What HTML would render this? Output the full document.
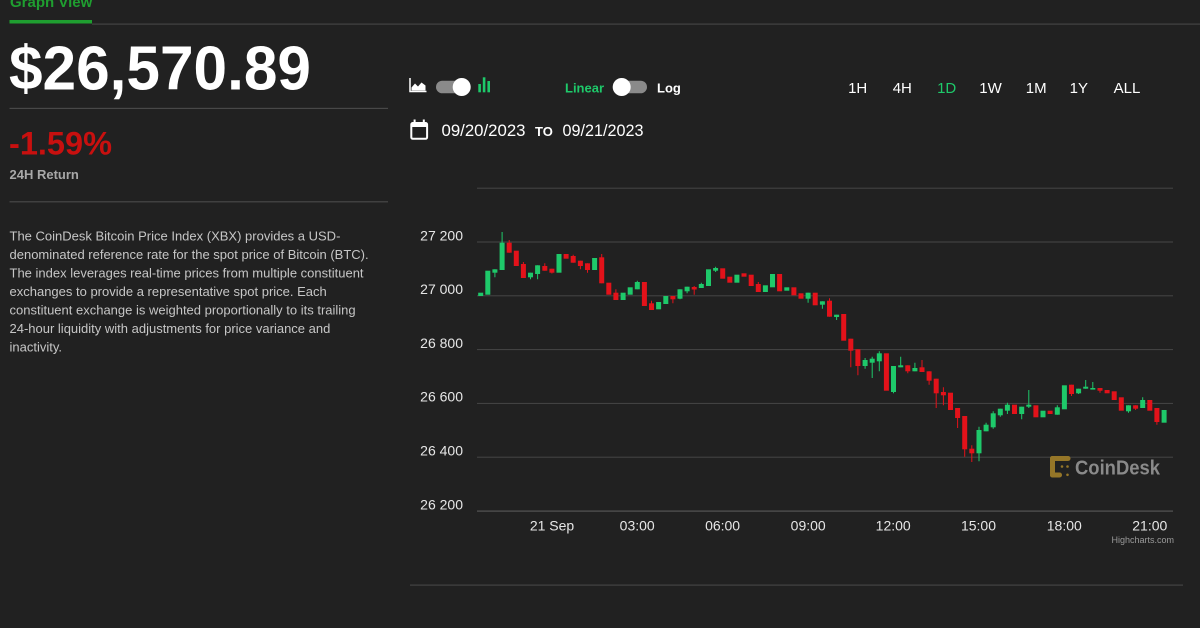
<!DOCTYPE html>
<html>
<head>
<meta charset="utf-8">
<style>
html,body{margin:0;padding:0;background:#212121;width:1200px;height:628px;overflow:hidden;}
svg{display:block;font-family:"Liberation Sans",Arial,sans-serif;}
</style>
</head>
<body>
<svg width="1200" height="628" viewBox="0 0 1200 628" xmlns="http://www.w3.org/2000/svg">
<rect width="1200" height="628" fill="#212121"/>

<!-- Left panel -->
<text x="10" y="7" font-size="15" font-weight="bold" fill="#1f9e30">Graph View</text>
<rect x="9.5" y="20" width="82.5" height="3.5" fill="#1f9e30"/>
<rect x="92" y="23.5" width="1108" height="1.2" fill="#444"/>

<text x="9" y="89.3" font-size="62" font-weight="bold" fill="#ffffff" textLength="302" lengthAdjust="spacingAndGlyphs">$26,570.89</text>
<rect x="9.5" y="107.8" width="378.5" height="1.2" fill="#484848"/>
<text x="9" y="154.5" font-size="32" font-weight="bold" fill="#c8100f" textLength="103" lengthAdjust="spacingAndGlyphs">-1.59%</text>
<text x="9.5" y="179" font-size="13" font-weight="bold" fill="#a8a8a8">24H Return</text>
<rect x="9.5" y="201.2" width="378.5" height="1.2" fill="#484848"/>

<g font-size="13" fill="#c6c6c6">
<text x="9.5" y="240.6">The CoinDesk Bitcoin Price Index (XBX) provides a USD-</text>
<text x="9.5" y="259.1">denominated reference rate for the spot price of Bitcoin (BTC).</text>
<text x="9.5" y="277.6">The index leverages real-time prices from multiple constituent</text>
<text x="9.5" y="296.1">exchanges to provide a representative spot price. Each</text>
<text x="9.5" y="314.6">constituent exchange is weighted proportionally to its trailing</text>
<text x="9.5" y="333.1">24-hour liquidity with adjustments for price variance and</text>
<text x="9.5" y="351.6">inactivity.</text>
</g>

<!-- Toolbar -->
<path d="M410 78 V91.5 H426.5" stroke="#fff" stroke-width="1.5" fill="none"/>
<path d="M411.5 90.5 L411.5 87.5 L415 83.5 L418 86.5 L421.5 82.5 L425.5 85.5 L425.5 90.5 Z" fill="#fff"/>
<rect x="436" y="80.7" width="33" height="12.6" rx="6.3" fill="#8a8a8a"/>
<circle cx="461.7" cy="87" r="9" fill="#fff"/>
<rect x="478.3" y="84" width="2.6" height="8.3" fill="#1ec96a"/>
<rect x="482.8" y="77.3" width="2.6" height="15" fill="#1ec96a"/>
<rect x="487.4" y="81" width="2.6" height="11.3" fill="#1ec96a"/>

<text x="565" y="92.3" font-size="13" font-weight="bold" fill="#1ec96a">Linear</text>
<rect x="613" y="80.7" width="34" height="12.6" rx="6.3" fill="#8a8a8a"/>
<circle cx="621.7" cy="87" r="9" fill="#fff"/>
<text x="657" y="92.3" font-size="13" font-weight="bold" fill="#fff">Log</text>

<g font-size="15" fill="#fff" text-anchor="middle">
<text x="857.7" y="93">1H</text>
<text x="902.3" y="93">4H</text>
<text x="946.7" y="93" fill="#1ec96a">1D</text>
<text x="990.5" y="93">1W</text>
<text x="1036.2" y="93">1M</text>
<text x="1078.8" y="93">1Y</text>
<text x="1127" y="93">ALL</text>
</g>

<rect x="411.3" y="123" width="15.8" height="15.8" rx="1.5" stroke="#fff" stroke-width="2" fill="none"/>
<rect x="411.3" y="123" width="15.8" height="4" fill="#fff"/>
<rect x="413.6" y="119.5" width="2" height="4" fill="#fff"/>
<rect x="422.8" y="119.5" width="2" height="4" fill="#fff"/>
<text x="441.5" y="136" font-size="16.5" fill="#fff" textLength="84" lengthAdjust="spacingAndGlyphs">09/20/2023</text>
<text x="535" y="136" font-size="13" font-weight="bold" fill="#fff">TO</text>
<text x="562.5" y="136" font-size="16.5" fill="#fff" textLength="81" lengthAdjust="spacingAndGlyphs">09/21/2023</text>

<!-- Grid -->
<g fill="#464646">
<rect x="477" y="187.7" width="696" height="1"/>
<rect x="477" y="241.5" width="696" height="1"/>
<rect x="477" y="295.3" width="696" height="1"/>
<rect x="477" y="349.1" width="696" height="1"/>
<rect x="477" y="402.9" width="696" height="1"/>
<rect x="477" y="456.7" width="696" height="1"/>
<rect x="477" y="510.5" width="696" height="1.2" fill="#555"/>
</g>
<g font-size="14" fill="#e6e6e6" text-anchor="end">
<text x="463" y="240.3">27 200</text>
<text x="463" y="294.2">27 000</text>
<text x="463" y="347.9">26 800</text>
<text x="463" y="401.5">26 600</text>
<text x="463" y="455.5">26 400</text>
<text x="463" y="509.4">26 200</text>
</g>
<g font-size="14" fill="#e6e6e6" text-anchor="middle">
<text x="552" y="530.3">21 Sep</text>
<text x="637.2" y="530.3">03:00</text>
<text x="722.6" y="530.3">06:00</text>
<text x="808.2" y="530.3">09:00</text>
<text x="893.2" y="530.3">12:00</text>
<text x="978.5" y="530.3">15:00</text>
<text x="1064.3" y="530.3">18:00</text>
<text x="1149.8" y="530.3">21:00</text>
</g>
<text x="1174" y="543" font-size="9" fill="#9a9a9a" text-anchor="end">Highcharts.com</text>
<rect x="410" y="584.5" width="773" height="1.2" fill="#444"/>

<!-- Watermark -->
<g fill="#957628">
<rect x="1050" y="456" width="5" height="21.5" rx="2.4"/>
<rect x="1050" y="456" width="20.5" height="5" rx="2.4"/>
<rect x="1050" y="472.5" width="12" height="5" rx="2.4"/>
<circle cx="1062" cy="466.5" r="1.3"/>
<circle cx="1067.5" cy="466.5" r="1.3"/>
<circle cx="1067.5" cy="474.8" r="1.3"/>
</g>
<text x="1075" y="474.5" font-size="20" font-weight="bold" fill="#8a8a8a" textLength="85" lengthAdjust="spacingAndGlyphs">CoinDesk</text>

<!-- Green candles -->
<path stroke="#1ec96a" stroke-width="1" fill="none" d="
M494.9 269.3V277.3 M502.1 232V270 M530.5 272.7V279.3 M537.6 265.3V279.3 M637.3 280.7V289.3
M680 289.3V299.3 M687.1 286.7V293.3 M701.3 282.7V288 M715.6 266.7V272 M808.1 292.7V302.7
M822.4 301.3V308.7 M836.6 314.7V320 M865.1 358V368.7 M872.2 356.7V378 M879.3 351.3V371.3
M893.5 366V393.3 M900.7 356.7V367.3 M914.9 362.7V371.3 M979 426.7V461.3 M986.1 422.7V431.3
M993.2 411.3V428.7 M1000.3 408.7V416.7 M1007.4 402.7V414 M1021.7 406.7V419.3 M1028.8 390V408
M1057.3 405.3V414.7 M1078.6 388.7V394 M1085.7 380V388.7 M1092.8 382V389.5 M1128.5 405.3V412.7
M1142.7 397.3V408"/>
<g fill="#1ec96a">
<rect x="478.2" y="292.7" width="5" height="3.3"/>
<rect x="485.3" y="270.7" width="5" height="24"/>
<rect x="492.4" y="269.3" width="5" height="3.4"/>
<rect x="499.6" y="242.7" width="5" height="27.3"/>
<rect x="528" y="272.7" width="5" height="4.6"/>
<rect x="535.1" y="265.3" width="5" height="8.7"/>
<rect x="556.5" y="254" width="5" height="18.7"/>
<rect x="592.1" y="258" width="5" height="12"/>
<rect x="620.6" y="292.7" width="5" height="7.3"/>
<rect x="627.7" y="287.3" width="5" height="7.4"/>
<rect x="634.8" y="282" width="5" height="7.3"/>
<rect x="656.1" y="302" width="5" height="7.3"/>
<rect x="663.3" y="296" width="5" height="8"/>
<rect x="677.5" y="289.3" width="5" height="9.4"/>
<rect x="684.6" y="286.7" width="5" height="4.6"/>
<rect x="698.8" y="284" width="5" height="4"/>
<rect x="706" y="269.3" width="5" height="16.7"/>
<rect x="713.1" y="268" width="5" height="2.7"/>
<rect x="734.4" y="274.7" width="5" height="8"/>
<rect x="762.9" y="285.3" width="5" height="6.7"/>
<rect x="770" y="274" width="5" height="13.3"/>
<rect x="784.3" y="287.3" width="5" height="3.4"/>
<rect x="805.6" y="292.7" width="5" height="6"/>
<rect x="819.9" y="301.3" width="5" height="3.4"/>
<rect x="834.1" y="314.7" width="5" height="2.3"/>
<rect x="862.6" y="360" width="5" height="6"/>
<rect x="869.7" y="358.7" width="5" height="4"/>
<rect x="876.8" y="353.3" width="5" height="8"/>
<rect x="891" y="366" width="5" height="26"/>
<rect x="898.2" y="365.3" width="5" height="2"/>
<rect x="912.4" y="368" width="5" height="3.3"/>
<rect x="976.5" y="430" width="5" height="23.3"/>
<rect x="983.6" y="424.7" width="5" height="6.6"/>
<rect x="990.7" y="413.3" width="5" height="14"/>
<rect x="997.8" y="408.7" width="5" height="6.6"/>
<rect x="1004.9" y="404.7" width="5" height="6"/>
<rect x="1019.2" y="406.7" width="5" height="7.3"/>
<rect x="1026.3" y="404.7" width="5" height="2"/>
<rect x="1040.5" y="410.7" width="5" height="6.6"/>
<rect x="1054.8" y="407.3" width="5" height="7.4"/>
<rect x="1061.9" y="385.3" width="5" height="24"/>
<rect x="1076.1" y="388.7" width="5" height="4.6"/>
<rect x="1083.2" y="386.7" width="5" height="2"/>
<rect x="1090.3" y="388" width="5" height="1.6"/>
<rect x="1126" y="405.3" width="5" height="6"/>
<rect x="1140.2" y="400" width="5" height="8"/>
<rect x="1161.6" y="410" width="5" height="12.7"/>
</g>

<!-- Red candles -->
<path stroke="#e3121a" stroke-width="1" fill="none" d="
M509.2 240V252.7 M523.4 262V278 M544.8 263.3V270.7 M551.9 268.7V273.5 M573.2 254.7V262.7
M580.4 260.7V269.3 M587.5 263.3V272.7 M601.7 254V283.3 M615.9 289.3V300 M651.5 300.7V310
M672.9 296V303.3 M694.2 286V294.7 M758.3 282V292 M829.5 298.3V316.7 M850.8 338.7V367.3
M857.9 349.3V375.3 M907.8 365.3V373.3 M922 360V372 M929.1 371.3V384.7 M936.2 378.7V408
M943.4 387.3V405.3 M957.6 408V428 M964.7 416V456.7 M971.8 445.3V462 M1071.5 384.7V396
M1100 388V392.7 M1135.6 405.3V410 M1156.9 408V424.7"/>
<g fill="#e3121a">
<rect x="506.7" y="242.7" width="5" height="10"/>
<rect x="513.8" y="250.7" width="5" height="15.3"/>
<rect x="520.9" y="264" width="5" height="14"/>
<rect x="542.3" y="266" width="5" height="4.7"/>
<rect x="549.4" y="268.7" width="5" height="4"/>
<rect x="563.6" y="254" width="5" height="4.7"/>
<rect x="570.7" y="256" width="5" height="6.7"/>
<rect x="577.9" y="260.7" width="5" height="5.3"/>
<rect x="585" y="263.3" width="5" height="6.7"/>
<rect x="599.2" y="257.3" width="5" height="26"/>
<rect x="606.3" y="282.7" width="5" height="12"/>
<rect x="613.4" y="292.7" width="5" height="7.3"/>
<rect x="641.9" y="282" width="5" height="24"/>
<rect x="649" y="303.3" width="5" height="6.7"/>
<rect x="670.4" y="296" width="5" height="3.3"/>
<rect x="691.7" y="287" width="5" height="2.5"/>
<rect x="720.2" y="268.3" width="5" height="10.4"/>
<rect x="727.3" y="276.7" width="5" height="6"/>
<rect x="741.5" y="273.3" width="5" height="3.4"/>
<rect x="748.7" y="274.7" width="5" height="11.3"/>
<rect x="755.8" y="284" width="5" height="8"/>
<rect x="777.1" y="274" width="5" height="17.3"/>
<rect x="791.4" y="287.3" width="5" height="8"/>
<rect x="798.5" y="293.3" width="5" height="5.4"/>
<rect x="812.7" y="292.7" width="5" height="12.6"/>
<rect x="827" y="300.7" width="5" height="16"/>
<rect x="841.2" y="314" width="5" height="26.7"/>
<rect x="848.3" y="338.7" width="5" height="12"/>
<rect x="855.4" y="349.3" width="5" height="16.7"/>
<rect x="883.9" y="353.3" width="5" height="37.4"/>
<rect x="905.3" y="365.3" width="5" height="6"/>
<rect x="919.5" y="367.3" width="5" height="4.7"/>
<rect x="926.6" y="371.3" width="5" height="9.4"/>
<rect x="933.7" y="378.7" width="5" height="14.6"/>
<rect x="940.9" y="392" width="5" height="3.3"/>
<rect x="948" y="392.7" width="5" height="17.3"/>
<rect x="955.1" y="408" width="5" height="10"/>
<rect x="962.2" y="416" width="5" height="33.3"/>
<rect x="969.3" y="448.7" width="5" height="4.6"/>
<rect x="1012" y="404.7" width="5" height="9.3"/>
<rect x="1033.4" y="405.3" width="5" height="12"/>
<rect x="1047.6" y="410.7" width="5" height="3.3"/>
<rect x="1069" y="384.7" width="5" height="9.3"/>
<rect x="1097.5" y="388" width="5" height="2.7"/>
<rect x="1104.6" y="390" width="5" height="3.3"/>
<rect x="1111.7" y="391.3" width="5" height="8.7"/>
<rect x="1118.8" y="397.3" width="5" height="13.4"/>
<rect x="1133.1" y="405.3" width="5" height="3.4"/>
<rect x="1147.3" y="400" width="5" height="10.7"/>
<rect x="1154.4" y="408" width="5" height="14"/>
</g>
</svg>
</body>
</html>
